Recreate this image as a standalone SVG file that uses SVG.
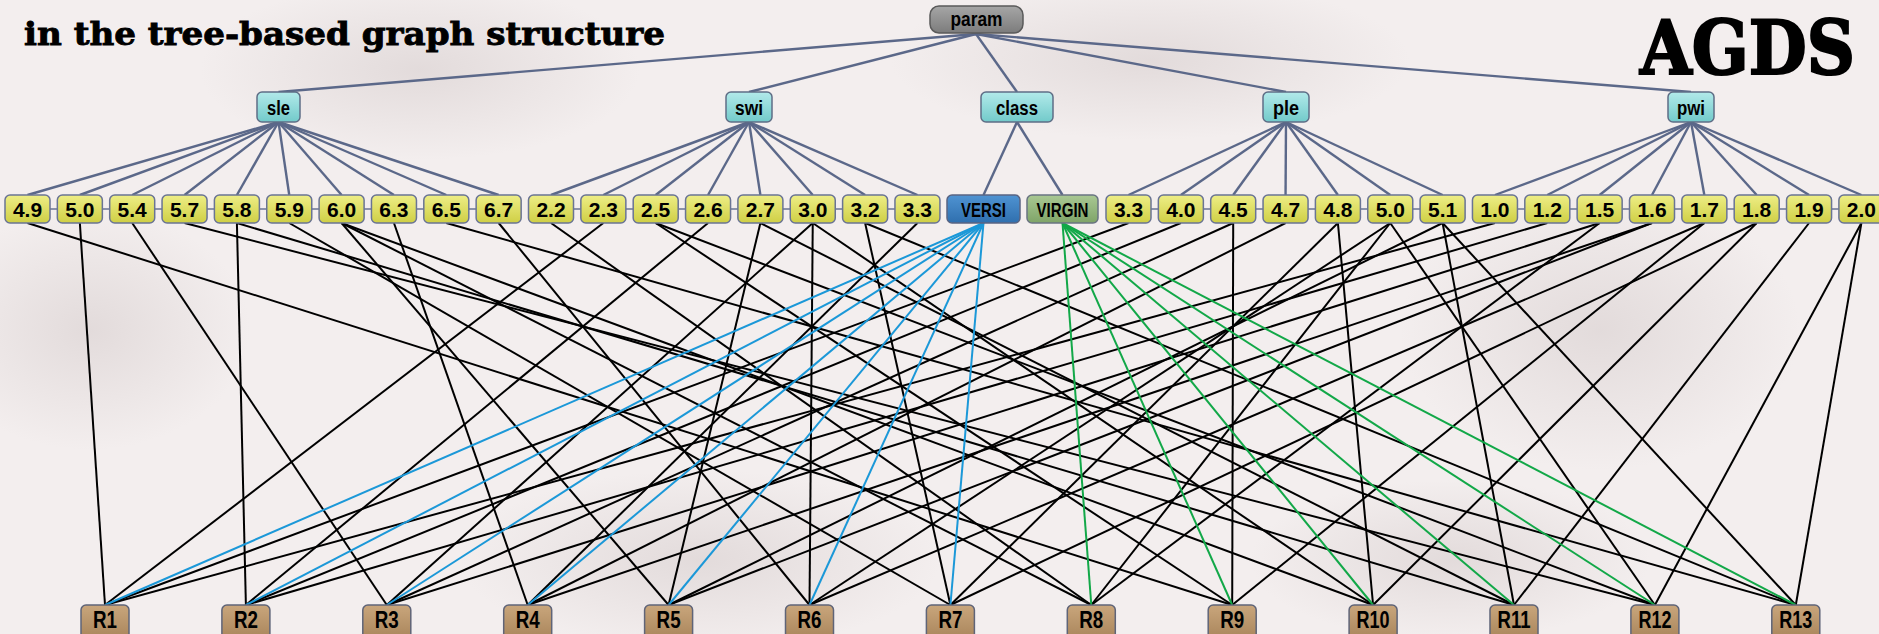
<svg xmlns="http://www.w3.org/2000/svg" width="1879" height="634" viewBox="0 0 1879 634">
<defs>
<linearGradient id="gY" x1="0" y1="0" x2="0" y2="1"><stop offset="0" stop-color="#eeee86"/><stop offset="1" stop-color="#cfcf45"/></linearGradient>
<linearGradient id="gC" x1="0" y1="0" x2="0" y2="1"><stop offset="0" stop-color="#b2eaea"/><stop offset="1" stop-color="#72caca"/></linearGradient>
<linearGradient id="gP" x1="0" y1="0" x2="0" y2="1"><stop offset="0" stop-color="#a6a6a6"/><stop offset="1" stop-color="#7c7c7c"/></linearGradient>
<linearGradient id="gB" x1="0" y1="0" x2="0" y2="1"><stop offset="0" stop-color="#4f93d2"/><stop offset="1" stop-color="#2f6fae"/></linearGradient>
<linearGradient id="gG" x1="0" y1="0" x2="0" y2="1"><stop offset="0" stop-color="#a9c893"/><stop offset="1" stop-color="#7fa468"/></linearGradient>
<linearGradient id="gR" x1="0" y1="0" x2="0" y2="1"><stop offset="0" stop-color="#c9a67c"/><stop offset="1" stop-color="#a8845a"/></linearGradient>
<radialGradient id="blob"><stop offset="0" stop-color="#d2c8c8" stop-opacity="0.5"/><stop offset="1" stop-color="#d2c8c8" stop-opacity="0"/></radialGradient>
<style>
.tree{stroke:#5b6889;stroke-width:2.4;fill:none}
.lk{stroke:#000;stroke-width:2;fill:none}
.lb{stroke:#1b98d8;stroke-width:2;fill:none}
.lg{stroke:#12a848;stroke-width:2;fill:none}
.sep{stroke:#6a7494;stroke-width:1.5}
.val{fill:url(#gY);stroke:#6a7494;stroke-width:1.5}
.att{fill:url(#gC);stroke:#5f6e86;stroke-width:1.5}
.rec{fill:url(#gR);stroke:#5f6478;stroke-width:1.5}
.vt{font-family:"Liberation Sans",Arial,sans-serif;font-weight:bold;font-size:21px;fill:#000;text-anchor:middle}
.nt{font-family:"Liberation Sans Narrow","Liberation Sans",Arial,sans-serif;font-weight:bold;font-size:20px;fill:#000;text-anchor:middle}
.rt{font-family:"Liberation Sans Narrow","Liberation Sans",Arial,sans-serif;font-weight:bold;font-size:23px;fill:#000;text-anchor:middle}
.ttl{font-family:"DejaVu Serif",serif;font-weight:bold;fill:#000;stroke:#000}
</style>
</defs>
<rect width="1879" height="634" fill="#f3eeee"/>
<g id="background">
<ellipse cx="90" cy="330" rx="160" ry="120" fill="url(#blob)"/>
<ellipse cx="420" cy="70" rx="220" ry="90" fill="url(#blob)"/>
<ellipse cx="1150" cy="60" rx="260" ry="80" fill="url(#blob)"/>
<ellipse cx="1600" cy="330" rx="200" ry="140" fill="url(#blob)"/>
<ellipse cx="700" cy="560" rx="240" ry="90" fill="url(#blob)"/>
<ellipse cx="1450" cy="560" rx="200" ry="80" fill="url(#blob)"/>
</g>
<text class="ttl" x="24" y="45" font-size="32" stroke-width="0.9" textLength="641" lengthAdjust="spacingAndGlyphs">in the tree-based graph structure</text>
<text class="ttl" x="1640" y="74" font-size="75" stroke-width="2.2" textLength="215" lengthAdjust="spacingAndGlyphs">AGDS</text>
<g id="tree-connectors">
<line class="tree" x1="976" y1="34" x2="278.5" y2="92"/>
<line class="tree" x1="976" y1="34" x2="749" y2="92"/>
<line class="tree" x1="976" y1="34" x2="1017" y2="92"/>
<line class="tree" x1="976" y1="34" x2="1286" y2="92"/>
<line class="tree" x1="976" y1="34" x2="1691" y2="92"/>
<line class="tree" x1="278.5" y1="122" x2="27.5" y2="195"/>
<line class="tree" x1="278.5" y1="122" x2="79.85" y2="195"/>
<line class="tree" x1="278.5" y1="122" x2="132.2" y2="195"/>
<line class="tree" x1="278.5" y1="122" x2="184.55" y2="195"/>
<line class="tree" x1="278.5" y1="122" x2="236.9" y2="195"/>
<line class="tree" x1="278.5" y1="122" x2="289.25" y2="195"/>
<line class="tree" x1="278.5" y1="122" x2="341.6" y2="195"/>
<line class="tree" x1="278.5" y1="122" x2="393.95" y2="195"/>
<line class="tree" x1="278.5" y1="122" x2="446.3" y2="195"/>
<line class="tree" x1="278.5" y1="122" x2="498.65" y2="195"/>
<line class="tree" x1="749" y1="122" x2="551" y2="195"/>
<line class="tree" x1="749" y1="122" x2="603.35" y2="195"/>
<line class="tree" x1="749" y1="122" x2="655.7" y2="195"/>
<line class="tree" x1="749" y1="122" x2="708.05" y2="195"/>
<line class="tree" x1="749" y1="122" x2="760.4" y2="195"/>
<line class="tree" x1="749" y1="122" x2="812.75" y2="195"/>
<line class="tree" x1="749" y1="122" x2="865.1" y2="195"/>
<line class="tree" x1="749" y1="122" x2="917.45" y2="195"/>
<line class="tree" x1="1017" y1="122" x2="983.5" y2="195"/>
<line class="tree" x1="1017" y1="122" x2="1062.5" y2="195"/>
<line class="tree" x1="1286" y1="122" x2="1128.5" y2="195"/>
<line class="tree" x1="1286" y1="122" x2="1180.85" y2="195"/>
<line class="tree" x1="1286" y1="122" x2="1233.2" y2="195"/>
<line class="tree" x1="1286" y1="122" x2="1285.55" y2="195"/>
<line class="tree" x1="1286" y1="122" x2="1337.9" y2="195"/>
<line class="tree" x1="1286" y1="122" x2="1390.25" y2="195"/>
<line class="tree" x1="1286" y1="122" x2="1442.6" y2="195"/>
<line class="tree" x1="1691" y1="122" x2="1494.95" y2="195"/>
<line class="tree" x1="1691" y1="122" x2="1547.3" y2="195"/>
<line class="tree" x1="1691" y1="122" x2="1599.65" y2="195"/>
<line class="tree" x1="1691" y1="122" x2="1652" y2="195"/>
<line class="tree" x1="1691" y1="122" x2="1704.35" y2="195"/>
<line class="tree" x1="1691" y1="122" x2="1756.7" y2="195"/>
<line class="tree" x1="1691" y1="122" x2="1809.05" y2="195"/>
<line class="tree" x1="1691" y1="122" x2="1861.4" y2="195"/>
</g>
<g id="record-connectors">
<line class="lk" x1="79.85" y1="223" x2="105" y2="605"/>
<line class="lk" x1="603.35" y1="223" x2="105" y2="605"/>
<line class="lk" x1="1128.5" y1="223" x2="105" y2="605"/>
<line class="lk" x1="1494.95" y1="223" x2="105" y2="605"/>
<line class="lk" x1="236.9" y1="223" x2="245.9" y2="605"/>
<line class="lk" x1="708.05" y1="223" x2="245.9" y2="605"/>
<line class="lk" x1="1180.85" y1="223" x2="245.9" y2="605"/>
<line class="lk" x1="1547.3" y1="223" x2="245.9" y2="605"/>
<line class="lk" x1="132.2" y1="223" x2="386.8" y2="605"/>
<line class="lk" x1="812.75" y1="223" x2="386.8" y2="605"/>
<line class="lk" x1="1233.2" y1="223" x2="386.8" y2="605"/>
<line class="lk" x1="1599.65" y1="223" x2="386.8" y2="605"/>
<line class="lk" x1="393.95" y1="223" x2="527.7" y2="605"/>
<line class="lk" x1="917.45" y1="223" x2="527.7" y2="605"/>
<line class="lk" x1="1285.55" y1="223" x2="527.7" y2="605"/>
<line class="lk" x1="1652" y1="223" x2="527.7" y2="605"/>
<line class="lk" x1="341.6" y1="223" x2="668.6" y2="605"/>
<line class="lk" x1="760.4" y1="223" x2="668.6" y2="605"/>
<line class="lk" x1="1442.6" y1="223" x2="668.6" y2="605"/>
<line class="lk" x1="1652" y1="223" x2="668.6" y2="605"/>
<line class="lk" x1="498.65" y1="223" x2="809.5" y2="605"/>
<line class="lk" x1="812.75" y1="223" x2="809.5" y2="605"/>
<line class="lk" x1="1390.25" y1="223" x2="809.5" y2="605"/>
<line class="lk" x1="1704.35" y1="223" x2="809.5" y2="605"/>
<line class="lk" x1="289.25" y1="223" x2="950.4" y2="605"/>
<line class="lk" x1="865.1" y1="223" x2="950.4" y2="605"/>
<line class="lk" x1="1337.9" y1="223" x2="950.4" y2="605"/>
<line class="lk" x1="1756.7" y1="223" x2="950.4" y2="605"/>
<line class="lk" x1="341.6" y1="223" x2="1091.3" y2="605"/>
<line class="lk" x1="551" y1="223" x2="1091.3" y2="605"/>
<line class="lk" x1="1390.25" y1="223" x2="1091.3" y2="605"/>
<line class="lk" x1="1599.65" y1="223" x2="1091.3" y2="605"/>
<line class="lk" x1="27.5" y1="223" x2="1232.2" y2="605"/>
<line class="lk" x1="655.7" y1="223" x2="1232.2" y2="605"/>
<line class="lk" x1="1233.2" y1="223" x2="1232.2" y2="605"/>
<line class="lk" x1="1704.35" y1="223" x2="1232.2" y2="605"/>
<line class="lk" x1="341.6" y1="223" x2="1373.1" y2="605"/>
<line class="lk" x1="812.75" y1="223" x2="1373.1" y2="605"/>
<line class="lk" x1="1337.9" y1="223" x2="1373.1" y2="605"/>
<line class="lk" x1="1756.7" y1="223" x2="1373.1" y2="605"/>
<line class="lk" x1="236.9" y1="223" x2="1514" y2="605"/>
<line class="lk" x1="760.4" y1="223" x2="1514" y2="605"/>
<line class="lk" x1="1442.6" y1="223" x2="1514" y2="605"/>
<line class="lk" x1="1809.05" y1="223" x2="1514" y2="605"/>
<line class="lk" x1="184.55" y1="223" x2="1654.9" y2="605"/>
<line class="lk" x1="655.7" y1="223" x2="1654.9" y2="605"/>
<line class="lk" x1="1390.25" y1="223" x2="1654.9" y2="605"/>
<line class="lk" x1="1861.4" y1="223" x2="1654.9" y2="605"/>
<line class="lk" x1="446.3" y1="223" x2="1795.8" y2="605"/>
<line class="lk" x1="865.1" y1="223" x2="1795.8" y2="605"/>
<line class="lk" x1="1442.6" y1="223" x2="1795.8" y2="605"/>
<line class="lk" x1="1861.4" y1="223" x2="1795.8" y2="605"/>
<line class="lb" x1="983.5" y1="223" x2="105" y2="605"/>
<line class="lb" x1="983.5" y1="223" x2="245.9" y2="605"/>
<line class="lb" x1="983.5" y1="223" x2="386.8" y2="605"/>
<line class="lb" x1="983.5" y1="223" x2="527.7" y2="605"/>
<line class="lb" x1="983.5" y1="223" x2="668.6" y2="605"/>
<line class="lb" x1="983.5" y1="223" x2="809.5" y2="605"/>
<line class="lb" x1="983.5" y1="223" x2="950.4" y2="605"/>
<line class="lg" x1="1062.5" y1="223" x2="1091.3" y2="605"/>
<line class="lg" x1="1062.5" y1="223" x2="1232.2" y2="605"/>
<line class="lg" x1="1062.5" y1="223" x2="1373.1" y2="605"/>
<line class="lg" x1="1062.5" y1="223" x2="1514" y2="605"/>
<line class="lg" x1="1062.5" y1="223" x2="1654.9" y2="605"/>
<line class="lg" x1="1062.5" y1="223" x2="1795.8" y2="605"/>
</g>
<g id="order-links">
<path class="sep" d="M50 209h7.35M102.35 209h7.35M154.7 209h7.35M207.05 209h7.35M259.4 209h7.35M311.75 209h7.35M364.1 209h7.35M416.45 209h7.35M468.8 209h7.35"/>
<path class="sep" d="M573.5 209h7.35M625.85 209h7.35M678.2 209h7.35M730.55 209h7.35M782.9 209h7.35M835.25 209h7.35M887.6 209h7.35"/>
<path class="sep" d="M1151 209h7.35M1203.35 209h7.35M1255.7 209h7.35M1308.05 209h7.35M1360.4 209h7.35M1412.75 209h7.35"/>
<path class="sep" d="M1517.45 209h7.35M1569.8 209h7.35M1622.15 209h7.35M1674.5 209h7.35M1726.85 209h7.35M1779.2 209h7.35M1831.55 209h7.35"/>
</g>
<g id="param"><rect x="930" y="6" width="93" height="27" rx="9" fill="url(#gP)" stroke="#5a5a5a" stroke-width="1.5"/><text class="nt" x="976.5" y="26" textLength="52" lengthAdjust="spacingAndGlyphs">param</text></g>
<g id="attr-sle"><rect class="att" x="257" y="92" width="43" height="30" rx="5"/><text class="nt" x="278.5" y="115" textLength="23" lengthAdjust="spacingAndGlyphs">sle</text></g>
<g id="attr-swi"><rect class="att" x="726" y="92" width="46" height="30" rx="5"/><text class="nt" x="749" y="115" textLength="28" lengthAdjust="spacingAndGlyphs">swi</text></g>
<g id="attr-class"><rect class="att" x="981" y="92" width="72" height="30" rx="5"/><text class="nt" x="1017" y="115" textLength="42" lengthAdjust="spacingAndGlyphs">class</text></g>
<g id="attr-ple"><rect class="att" x="1263" y="92" width="46" height="30" rx="5"/><text class="nt" x="1286" y="115" textLength="26" lengthAdjust="spacingAndGlyphs">ple</text></g>
<g id="attr-pwi"><rect class="att" x="1668" y="92" width="46" height="30" rx="5"/><text class="nt" x="1691" y="115" textLength="28" lengthAdjust="spacingAndGlyphs">pwi</text></g>
<g id="sle-4.9"><rect class="val" x="5" y="195" width="45" height="28" rx="5"/><text class="vt" x="27.5" y="216.5">4.9</text></g>
<g id="sle-5.0"><rect class="val" x="57.35" y="195" width="45" height="28" rx="5"/><text class="vt" x="79.85" y="216.5">5.0</text></g>
<g id="sle-5.4"><rect class="val" x="109.7" y="195" width="45" height="28" rx="5"/><text class="vt" x="132.2" y="216.5">5.4</text></g>
<g id="sle-5.7"><rect class="val" x="162.05" y="195" width="45" height="28" rx="5"/><text class="vt" x="184.55" y="216.5">5.7</text></g>
<g id="sle-5.8"><rect class="val" x="214.4" y="195" width="45" height="28" rx="5"/><text class="vt" x="236.9" y="216.5">5.8</text></g>
<g id="sle-5.9"><rect class="val" x="266.75" y="195" width="45" height="28" rx="5"/><text class="vt" x="289.25" y="216.5">5.9</text></g>
<g id="sle-6.0"><rect class="val" x="319.1" y="195" width="45" height="28" rx="5"/><text class="vt" x="341.6" y="216.5">6.0</text></g>
<g id="sle-6.3"><rect class="val" x="371.45" y="195" width="45" height="28" rx="5"/><text class="vt" x="393.95" y="216.5">6.3</text></g>
<g id="sle-6.5"><rect class="val" x="423.8" y="195" width="45" height="28" rx="5"/><text class="vt" x="446.3" y="216.5">6.5</text></g>
<g id="sle-6.7"><rect class="val" x="476.15" y="195" width="45" height="28" rx="5"/><text class="vt" x="498.65" y="216.5">6.7</text></g>
<g id="swi-2.2"><rect class="val" x="528.5" y="195" width="45" height="28" rx="5"/><text class="vt" x="551" y="216.5">2.2</text></g>
<g id="swi-2.3"><rect class="val" x="580.85" y="195" width="45" height="28" rx="5"/><text class="vt" x="603.35" y="216.5">2.3</text></g>
<g id="swi-2.5"><rect class="val" x="633.2" y="195" width="45" height="28" rx="5"/><text class="vt" x="655.7" y="216.5">2.5</text></g>
<g id="swi-2.6"><rect class="val" x="685.55" y="195" width="45" height="28" rx="5"/><text class="vt" x="708.05" y="216.5">2.6</text></g>
<g id="swi-2.7"><rect class="val" x="737.9" y="195" width="45" height="28" rx="5"/><text class="vt" x="760.4" y="216.5">2.7</text></g>
<g id="swi-3.0"><rect class="val" x="790.25" y="195" width="45" height="28" rx="5"/><text class="vt" x="812.75" y="216.5">3.0</text></g>
<g id="swi-3.2"><rect class="val" x="842.6" y="195" width="45" height="28" rx="5"/><text class="vt" x="865.1" y="216.5">3.2</text></g>
<g id="swi-3.3"><rect class="val" x="894.95" y="195" width="45" height="28" rx="5"/><text class="vt" x="917.45" y="216.5">3.3</text></g>
<g id="class-versi"><rect x="947" y="195" width="73" height="28" rx="5" fill="url(#gB)" stroke="#5a6482" stroke-width="1.5"/><text class="nt" x="983.5" y="216.5" textLength="45" lengthAdjust="spacingAndGlyphs">VERSI</text></g>
<g id="class-virgin"><rect x="1027" y="195" width="71" height="28" rx="5" fill="url(#gG)" stroke="#6a7482" stroke-width="1.5"/><text class="nt" x="1062.5" y="216.5" textLength="52" lengthAdjust="spacingAndGlyphs">VIRGIN</text></g>
<g id="ple-3.3"><rect class="val" x="1106" y="195" width="45" height="28" rx="5"/><text class="vt" x="1128.5" y="216.5">3.3</text></g>
<g id="ple-4.0"><rect class="val" x="1158.35" y="195" width="45" height="28" rx="5"/><text class="vt" x="1180.85" y="216.5">4.0</text></g>
<g id="ple-4.5"><rect class="val" x="1210.7" y="195" width="45" height="28" rx="5"/><text class="vt" x="1233.2" y="216.5">4.5</text></g>
<g id="ple-4.7"><rect class="val" x="1263.05" y="195" width="45" height="28" rx="5"/><text class="vt" x="1285.55" y="216.5">4.7</text></g>
<g id="ple-4.8"><rect class="val" x="1315.4" y="195" width="45" height="28" rx="5"/><text class="vt" x="1337.9" y="216.5">4.8</text></g>
<g id="ple-5.0"><rect class="val" x="1367.75" y="195" width="45" height="28" rx="5"/><text class="vt" x="1390.25" y="216.5">5.0</text></g>
<g id="ple-5.1"><rect class="val" x="1420.1" y="195" width="45" height="28" rx="5"/><text class="vt" x="1442.6" y="216.5">5.1</text></g>
<g id="pwi-1.0"><rect class="val" x="1472.45" y="195" width="45" height="28" rx="5"/><text class="vt" x="1494.95" y="216.5">1.0</text></g>
<g id="pwi-1.2"><rect class="val" x="1524.8" y="195" width="45" height="28" rx="5"/><text class="vt" x="1547.3" y="216.5">1.2</text></g>
<g id="pwi-1.5"><rect class="val" x="1577.15" y="195" width="45" height="28" rx="5"/><text class="vt" x="1599.65" y="216.5">1.5</text></g>
<g id="pwi-1.6"><rect class="val" x="1629.5" y="195" width="45" height="28" rx="5"/><text class="vt" x="1652" y="216.5">1.6</text></g>
<g id="pwi-1.7"><rect class="val" x="1681.85" y="195" width="45" height="28" rx="5"/><text class="vt" x="1704.35" y="216.5">1.7</text></g>
<g id="pwi-1.8"><rect class="val" x="1734.2" y="195" width="45" height="28" rx="5"/><text class="vt" x="1756.7" y="216.5">1.8</text></g>
<g id="pwi-1.9"><rect class="val" x="1786.55" y="195" width="45" height="28" rx="5"/><text class="vt" x="1809.05" y="216.5">1.9</text></g>
<g id="pwi-2.0"><rect class="val" x="1838.9" y="195" width="45" height="28" rx="5"/><text class="vt" x="1861.4" y="216.5">2.0</text></g>
<g id="R1"><rect class="rec" x="81" y="605" width="48" height="35" rx="5"/><text class="rt" x="105" y="628" textLength="24" lengthAdjust="spacingAndGlyphs">R1</text></g>
<g id="R2"><rect class="rec" x="221.9" y="605" width="48" height="35" rx="5"/><text class="rt" x="245.9" y="628" textLength="24" lengthAdjust="spacingAndGlyphs">R2</text></g>
<g id="R3"><rect class="rec" x="362.8" y="605" width="48" height="35" rx="5"/><text class="rt" x="386.8" y="628" textLength="24" lengthAdjust="spacingAndGlyphs">R3</text></g>
<g id="R4"><rect class="rec" x="503.7" y="605" width="48" height="35" rx="5"/><text class="rt" x="527.7" y="628" textLength="24" lengthAdjust="spacingAndGlyphs">R4</text></g>
<g id="R5"><rect class="rec" x="644.6" y="605" width="48" height="35" rx="5"/><text class="rt" x="668.6" y="628" textLength="24" lengthAdjust="spacingAndGlyphs">R5</text></g>
<g id="R6"><rect class="rec" x="785.5" y="605" width="48" height="35" rx="5"/><text class="rt" x="809.5" y="628" textLength="24" lengthAdjust="spacingAndGlyphs">R6</text></g>
<g id="R7"><rect class="rec" x="926.4" y="605" width="48" height="35" rx="5"/><text class="rt" x="950.4" y="628" textLength="24" lengthAdjust="spacingAndGlyphs">R7</text></g>
<g id="R8"><rect class="rec" x="1067.3" y="605" width="48" height="35" rx="5"/><text class="rt" x="1091.3" y="628" textLength="24" lengthAdjust="spacingAndGlyphs">R8</text></g>
<g id="R9"><rect class="rec" x="1208.2" y="605" width="48" height="35" rx="5"/><text class="rt" x="1232.2" y="628" textLength="24" lengthAdjust="spacingAndGlyphs">R9</text></g>
<g id="R10"><rect class="rec" x="1349.1" y="605" width="48" height="35" rx="5"/><text class="rt" x="1373.1" y="628" textLength="33" lengthAdjust="spacingAndGlyphs">R10</text></g>
<g id="R11"><rect class="rec" x="1490" y="605" width="48" height="35" rx="5"/><text class="rt" x="1514" y="628" textLength="33" lengthAdjust="spacingAndGlyphs">R11</text></g>
<g id="R12"><rect class="rec" x="1630.9" y="605" width="48" height="35" rx="5"/><text class="rt" x="1654.9" y="628" textLength="33" lengthAdjust="spacingAndGlyphs">R12</text></g>
<g id="R13"><rect class="rec" x="1771.8" y="605" width="48" height="35" rx="5"/><text class="rt" x="1795.8" y="628" textLength="33" lengthAdjust="spacingAndGlyphs">R13</text></g>
</svg>
